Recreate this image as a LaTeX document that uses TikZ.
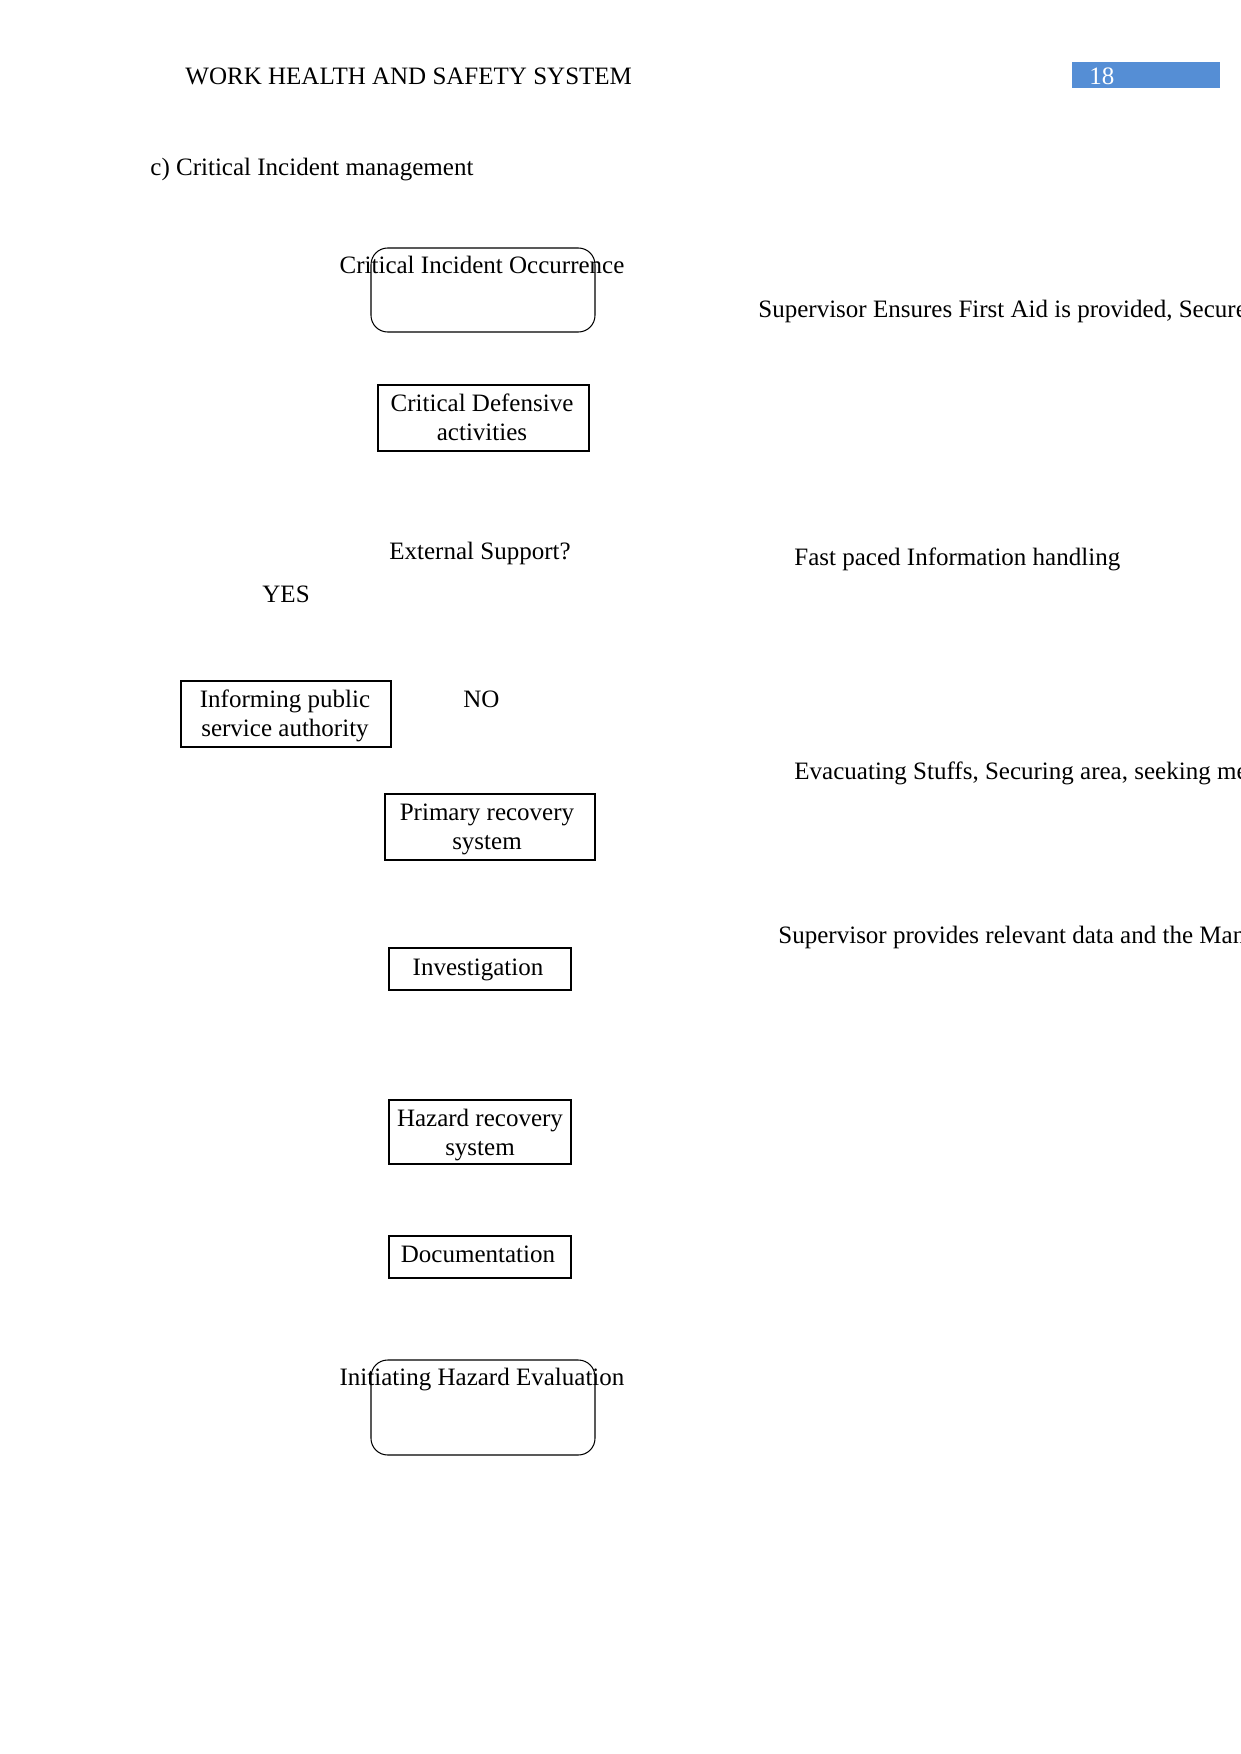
\documentclass[tikz,border=0pt]{standalone}
\usepackage{fontspec}
\setmainfont{Liberation Serif}
\definecolor{hdrblue}{RGB}{85,142,213}

\begin{document}
\begin{tikzpicture}[x=0.4797pt,y=-0.4797pt,
  every node/.style={font=\fontsize{12pt}{13.8pt}\selectfont,inner sep=0pt},
  box/.style={draw,line width=0.5pt},
  roundbox/.style={box,rounded corners=8pt}]
  \useasboundingbox (0,0) rectangle (1241,1754);
  \clip (0,0) rectangle (1241,1754);
  % page header
  \node[anchor=base west] (hdr) at (185,85) {WORK HEALTH AND SAFETY SYSTEM};
  \fill[hdrblue] (1072,62) rectangle (1220,88);
  \node[anchor=base west,text=white] (pgno) at (1089,85) {18};
  \node[anchor=base west] (sect) at (150,175) {c) Critical Incident management};
  % flow boxes (two-line texts sit on their last line)
  \draw[roundbox] (371,248) rectangle (595,332);
  \node[anchor=base] (occ) at (482,273) {Critical Incident Occurrence};
  \draw[box] (378,385) rectangle (589,451);
  \node[anchor=base,align=center] (def) at (482,440) {Critical Defensive\\activities};
  \node[anchor=base] (ext) at (480,559) {External Support?};
  \node[anchor=base west] (yes) at (262,602) {YES};
  \draw[box] (181,681) rectangle (391,747);
  \node[anchor=base,align=center] (pub) at (285,736) {Informing public\\service authority};
  \node[anchor=base west] (no) at (463,707) {NO};
  \draw[box] (385,794) rectangle (595,860);
  \node[anchor=base,align=center] (prim) at (487,849) {Primary recovery\\system};
  \draw[box] (389,948) rectangle (571,990);
  \node[anchor=base] (inv) at (478,975) {Investigation};
  \draw[box] (389,1100) rectangle (571,1164);
  \node[anchor=base,align=center] (haz) at (480,1155) {Hazard recovery\\system};
  \draw[box] (389,1236) rectangle (571,1278);
  \node[anchor=base] (doc) at (478,1262) {Documentation};
  \draw[roundbox] (371,1360) rectangle (595,1455);
  \node[anchor=base] (eval) at (482,1385) {Initiating Hazard Evaluation};
  % side notes, cut off at the page edge as in the source
  \node[anchor=base west] (aid) at (758,317) {Supervisor Ensures First Aid is provided, Secure};
  \node[anchor=base west] (info) at (794,565) {Fast paced Information handling};
  \node[anchor=base west] (evac) at (794,779) {Evacuating Stuffs, Securing area, seeking me};
  \node[anchor=base west] (data) at (778,943) {Supervisor provides relevant data and the Man};
\end{tikzpicture}
\end{document}
